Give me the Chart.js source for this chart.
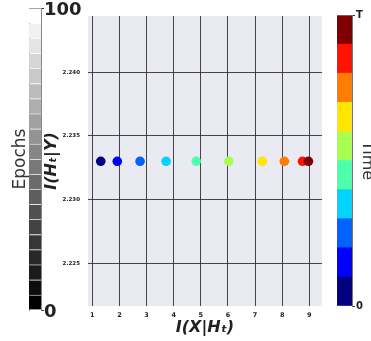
<!DOCTYPE html>
<html>
<head>
<meta charset="utf-8">
<script src="https://cdn.jsdelivr.net/npm/chart.js@4"></script>
<style>
  html, body { margin: 0; padding: 0; background: #fff; overflow: hidden; }
  #wrap { position: relative; width: 371px; height: 341px; overflow: hidden; }
  canvas { position: absolute; top: 0; }
</style>
</head>
<body>
<div id="wrap">
  <canvas id="epochBar" width="90" height="341" style="left:0"></canvas>
  <canvas id="timeBar" width="60" height="341" style="left:320px"></canvas>
  <canvas id="main" width="371" height="341" style="left:0"></canvas>
</div>
<script>
// I(X|H_t) vs I(H_t|Y) at successive time steps
const xValues = [1.31, 1.92, 2.76, 3.72, 4.83, 6.03, 7.27, 8.08, 8.75, 8.97];
const yValues = [2.233, 2.233, 2.233, 2.233, 2.233, 2.233, 2.233, 2.233, 2.233, 2.233];
const timeColors = ['#000080', '#0000ff', '#0063ff', '#00d4ff', '#4dffaa',
                    '#a9ff4d', '#ffe500', '#ff7d00', '#ff1300', '#800000'];

const xTicks = [1, 2, 3, 4, 5, 6, 7, 8, 9];
const yTicks = [2.225, 2.230, 2.235, 2.240];

// colour bars
const epochBins = [5, 5, 5, 5, 5, 5, 5, 5, 5, 5, 5, 5, 5, 5, 5, 5, 5, 5, 5, 5];
const epochColors = ['#000000', '#0d0d0d', '#1b1b1b', '#282828', '#363636',
                     '#434343', '#505050', '#5e5e5e', '#6b6b6b', '#797979',
                     '#868686', '#939393', '#a1a1a1', '#aeaeae', '#bcbcbc',
                     '#c9c9c9', '#d6d6d6', '#e4e4e4', '#f1f1f1', '#ffffff'];
const epochTicks = [0, 100];
const timeBins = [1, 1, 1, 1, 1, 1, 1, 1, 1, 1];
const timeTicks = [0, 10];
const timeTickLabels = ['0', 'T'];

const FONT = 'DejaVu Sans';

const plotBg = {
    id: 'plotBg',
    beforeDraw(chart) {
        const {ctx, chartArea: a} = chart;
        ctx.save();
        ctx.fillStyle = '#eaeaf2';
        ctx.fillRect(a.left, a.top, a.right - a.left, a.bottom - a.top);
        ctx.restore();
    }
};

new Chart(document.getElementById('main'), {
    type: 'scatter',
    data: {
        datasets: [{
            data: xValues.map((x, i) => ({x: x, y: yValues[i]})),
            backgroundColor: timeColors,
            borderWidth: 0,
            pointRadius: 4.8
        }]
    },
    options: {
        responsive: false,
        animation: false,
        devicePixelRatio: 1,
        layout: {padding: {left: 0, right: 49, top: 16, bottom: 0}},
        plugins: {legend: {display: false}, tooltip: {enabled: false}},
        scales: {
            x: {
                type: 'linear',
                min: 0.84,
                max: 9.47,
                afterBuildTicks: s => { s.ticks = xTicks.map(v => ({value: v})); },
                afterFit: s => { s.height = 35; s.paddingLeft = 0; s.paddingRight = 0; },
                grid: {color: 'rgba(40,40,40,0.85)', lineWidth: 1, drawTicks: false},
                border: {display: false},
                ticks: {
                    padding: 5,
                    color: '#222',
                    font: {family: FONT, size: 6.5, weight: 'bold'},
                    maxRotation: 0
                },
                title: {
                    display: true,
                    text: 'I(X|Hₜ)',
                    color: '#222',
                    padding: {top: 0, bottom: 4},
                    font: {family: FONT, size: 16, weight: 'bold', style: 'italic'}
                }
            },
            y: {
                type: 'linear',
                min: 2.22165,
                max: 2.2444,
                afterBuildTicks: s => { s.ticks = yTicks.map(v => ({value: v})); },
                afterFit: s => { s.width = 88; s.paddingTop = 0; s.paddingBottom = 0; },
                grid: {color: 'rgba(40,40,40,0.85)', lineWidth: 1, drawTicks: false},
                border: {display: false},
                ticks: {
                    padding: 8,
                    color: '#222',
                    font: {family: FONT, size: 5.5, weight: 'bold'},
                    callback: v => v.toFixed(3)
                },
                title: {
                    display: true,
                    text: 'I(Hₜ|Y)',
                    color: '#222',
                    padding: {top: 42},
                    font: {family: FONT, size: 16, weight: 'bold', style: 'italic'}
                }
            }
        }
    },
    plugins: [plotBg]
});

new Chart(document.getElementById('epochBar'), {
    type: 'bar',
    data: {
        labels: [''],
        datasets: epochBins.map((v, i) => ({
            data: [v],
            backgroundColor: epochColors[i],
            borderColor: i === epochBins.length - 1 ? '#888' : 'rgba(255,255,255,0.22)',
            borderWidth: {top: 1},
            borderSkipped: false,
            barPercentage: 1,
            categoryPercentage: 1
        }))
    },
    options: {
        responsive: false,
        animation: false,
        devicePixelRatio: 1,
        layout: {padding: {left: 0, right: 0, top: 8, bottom: 31}},
        plugins: {legend: {display: false}, tooltip: {enabled: false}},
        scales: {
            x: {stacked: true, display: false},
            y: {
                stacked: true,
                position: 'right',
                min: 0,
                max: 100,
                afterBuildTicks: s => { s.ticks = epochTicks.map(v => ({value: v})); },
                afterFit: s => { s.width = 49; s.paddingTop = 0; s.paddingBottom = 0; },
                grid: {drawOnChartArea: false, tickLength: 3, color: '#333'},
                border: {display: true, color: '#888'},
                ticks: {
                    padding: 0,
                    labelOffset: 2.5,
                    color: '#222',
                    font: {family: FONT, size: 18, weight: 'bold'}
                }
            },
            y2: {
                position: 'left',
                min: 0,
                max: 100,
                afterFit: s => { s.width = 29; s.paddingTop = 0; s.paddingBottom = 0; },
                grid: {display: false},
                border: {display: true, color: '#888'},
                ticks: {display: false},
                title: {
                    display: true,
                    text: 'Epochs',
                    color: '#333',
                    padding: {top: 10},
                    font: {family: FONT, size: 17}
                }
            }
        }
    }
});

new Chart(document.getElementById('timeBar'), {
    type: 'bar',
    data: {
        labels: [''],
        datasets: timeBins.map((v, i) => ({
            data: [v],
            backgroundColor: timeColors[i],
            borderColor: '#777',
            borderWidth: {top: i === timeBins.length - 1 ? 1 : 0},
            borderSkipped: false,
            barPercentage: 1,
            categoryPercentage: 1
        }))
    },
    options: {
        responsive: false,
        animation: false,
        devicePixelRatio: 1,
        layout: {padding: {left: 17, right: 0, top: 15, bottom: 35}},
        plugins: {legend: {display: false}, tooltip: {enabled: false}},
        scales: {
            x: {stacked: true, display: false},
            y: {
                stacked: true,
                position: 'right',
                min: 0,
                max: 10,
                afterBuildTicks: s => { s.ticks = timeTicks.map(v => ({value: v})); },
                afterFit: s => { s.width = 28; s.paddingTop = 0; s.paddingBottom = 0; },
                grid: {drawOnChartArea: false, tickLength: 3, color: '#333'},
                border: {display: true, color: '#777'},
                ticks: {
                    padding: 1,
                    color: '#222',
                    font: {family: FONT, size: 10, weight: 'bold'},
                    callback: (v, i) => timeTickLabels[i]
                },
                title: {
                    display: true,
                    text: 'Time',
                    color: '#333',
                    padding: {top: 3},
                    font: {family: FONT, size: 16}
                }
            }
        }
    }
});
</script>
</body>
</html>
